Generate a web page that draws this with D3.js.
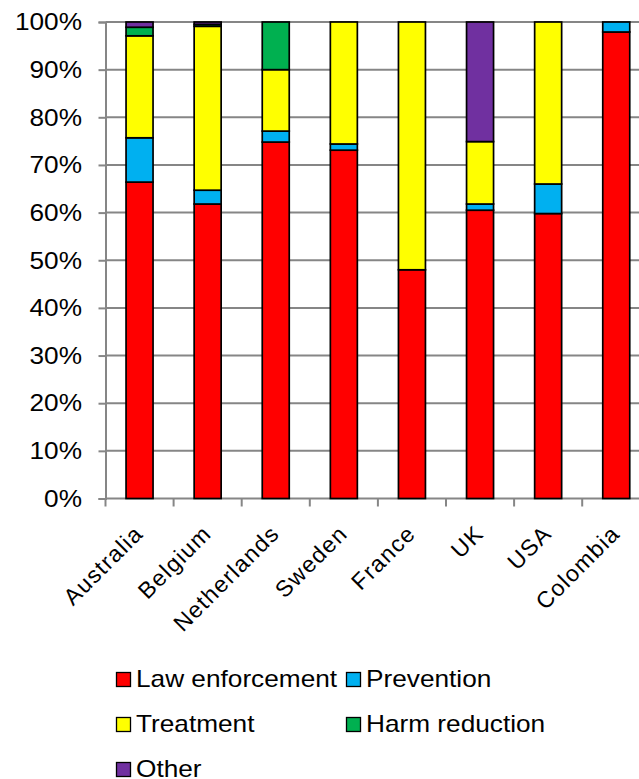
<!DOCTYPE html>
<html>
<head>
<meta charset="utf-8">
<script src="https://cdn.jsdelivr.net/npm/d3@7"></script>
<style>
  html, body { margin: 0; padding: 0; background: #fff; }
  svg { display: block; }
  text { font-family: "Liberation Sans", Arial, sans-serif; fill: #000; }
</style>
</head>
<body>
<svg id="chart" width="639" height="779"></svg>
<script>
// Share of drug-policy spending by category, per country (percent)
const countries = ["Australia", "Belgium", "Netherlands", "Sweden", "France", "UK", "USA", "Colombia"];
const lawEnforcement = [66.4, 61.8, 74.8, 73.1, 48.0, 60.5, 59.8, 97.9];
const prevention     = [ 9.3,  2.9,  2.3,  1.3,  0.0,  1.3,  6.2,  2.1];
const treatment      = [21.4, 34.4, 12.9, 25.6, 52.0, 13.1, 34.0,  0.0];
const harmReduction  = [ 1.8,  0.4, 10.0,  0.0,  0.0,  0.0,  0.0,  0.0];
const other          = [ 1.1,  0.5,  0.0,  0.0,  0.0, 25.1,  0.0,  0.0];
const yTicks = [0, 10, 20, 30, 40, 50, 60, 70, 80, 90, 100];

const seriesNames  = ["Law enforcement", "Prevention", "Treatment", "Harm reduction", "Other"];
const seriesColors = ["#FF0000", "#00B0F0", "#FFFF00", "#00B050", "#7030A0"];
const seriesValues = [lawEnforcement, prevention, treatment, harmReduction, other];

const rows = countries.map((c, i) => {
  const r = { country: c };
  seriesNames.forEach((s, k) => { r[s] = seriesValues[k][i]; });
  return r;
});
const stacked = d3.stack().keys(seriesNames)(rows);

const svg = d3.select("#chart");
const plot = { left: 105.5, right: 650.3, top: 22, bottom: 498.5 };
const SX = 1.14;   // text is drawn slightly wide
const FONT = 23;

const x = d3.scaleBand().domain(countries).range([plot.left, plot.right]).paddingInner(0).paddingOuter(0);
const y = d3.scaleLinear().domain([0, 100]).range([plot.bottom, plot.top]);
const color = d3.scaleOrdinal().domain(seriesNames).range(seriesColors);

// horizontal gridlines
svg.append("g")
  .selectAll("line")
  .data(yTicks.filter(t => t > 0))
  .join("line")
  .attr("x1", plot.left).attr("x2", 639)
  .attr("y1", d => y(d)).attr("y2", d => y(d))
  .attr("stroke", "#868686").attr("stroke-width", 2);

// y axis
const yAxis = svg.append("g")
  .attr("transform", `translate(${plot.left},0)`)
  .call(d3.axisLeft(y).tickValues(yTicks).tickSize(7).tickFormat(d => d + "%"));
yAxis.select(".domain").attr("stroke", "#868686").attr("stroke-width", 2);
yAxis.selectAll(".tick line").attr("stroke", "#868686").attr("stroke-width", 2);
yAxis.selectAll(".tick text").remove();
svg.append("g")
  .selectAll("text")
  .data(yTicks)
  .join("text")
  .attr("transform", d => `translate(82,${y(d)}) scale(${SX},1)`)
  .attr("dy", "0.36em")
  .attr("text-anchor", "end")
  .attr("font-size", FONT)
  .text(d => d + "%");

// x axis with ticks between categories
const xAxis = svg.append("g")
  .attr("transform", `translate(0,${plot.bottom})`);
xAxis.append("line")
  .attr("x1", plot.left).attr("x2", 639)
  .attr("stroke", "#868686").attr("stroke-width", 2);
xAxis.selectAll("line.tk")
  .data(countries)
  .join("line")
  .attr("class", "tk")
  .attr("x1", d => x(d)).attr("x2", d => x(d))
  .attr("y1", 0).attr("y2", 8)
  .attr("stroke", "#868686").attr("stroke-width", 2);

// stacked bars
const barW = 27;
svg.append("g")
  .selectAll("g")
  .data(stacked)
  .join("g")
  .attr("fill", d => color(d.key))
  .selectAll("rect")
  .data(d => d.filter(s => s[1] - s[0] > 0))
  .join("rect")
  .attr("x", d => x(d.data.country) + x.bandwidth() / 2 - barW / 2)
  .attr("width", barW)
  .attr("y", d => y(d[1]))
  .attr("height", d => y(d[0]) - y(d[1]))
  .attr("stroke", "#000")
  .attr("stroke-width", 1.7);

// category labels, rotated 45 degrees
svg.append("g")
  .selectAll("text")
  .data(countries)
  .join("text")
  .attr("transform", d => `translate(${x(d) + x.bandwidth() / 2 + 5},535) rotate(-45)`)
  .attr("text-anchor", "end")
  .attr("font-size", FONT)
  .attr("letter-spacing", 1.3)
  .text(d => d);

// legend
const legendPos = [
  { x: 116, y: 672 }, { x: 346, y: 672 },
  { x: 116, y: 717 }, { x: 346, y: 717 },
  { x: 116, y: 762 }
];
const legend = svg.append("g")
  .selectAll("g")
  .data(seriesNames)
  .join("g")
  .attr("transform", (d, i) => `translate(${legendPos[i].x},${legendPos[i].y})`);
legend.append("rect")
  .attr("x", 0.5).attr("y", 0.5)
  .attr("width", 14).attr("height", 14)
  .attr("fill", d => color(d))
  .attr("stroke", "#000").attr("stroke-width", 1.3);
legend.append("text")
  .attr("transform", `translate(20,14.5) scale(${SX},1)`)
  .attr("font-size", FONT)
  .text(d => d);
</script>
</body>
</html>
